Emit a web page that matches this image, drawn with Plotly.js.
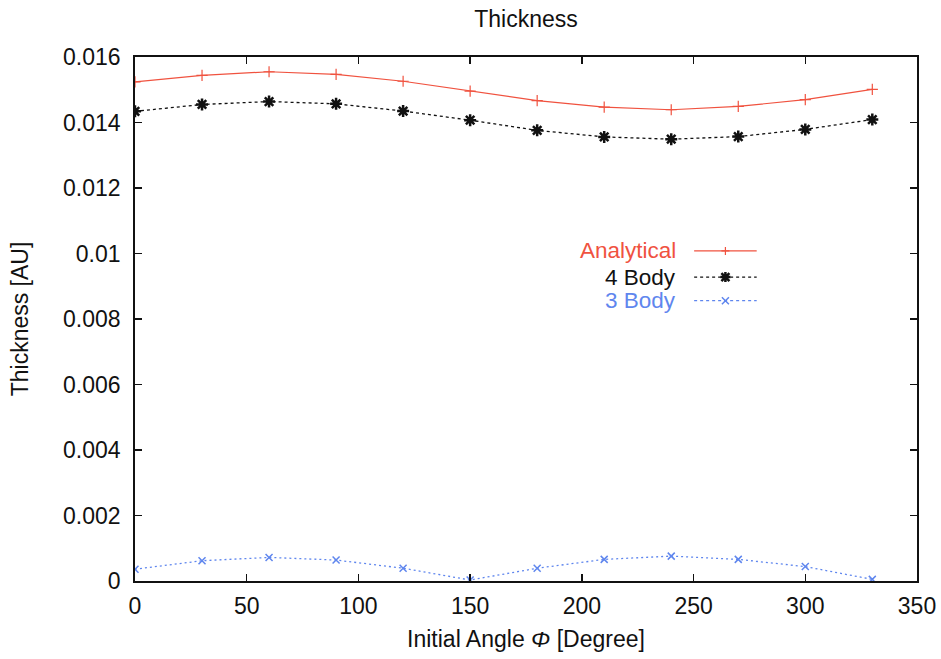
<!DOCTYPE html>
<html>
<head>
<meta charset="utf-8">
<script src="https://cdn.plot.ly/plotly-3.0.1.min.js"></script>
<style>html,body{margin:0;padding:0;background:#fff;}#chart{width:941px;height:659px;}</style>
</head>
<body>
<div id="chart"></div>
<script>
var phi = [0, 30, 60, 90, 120, 150, 180, 210, 240, 270, 300, 330];
var analytical = [0.01524, 0.01544, 0.01555, 0.01547, 0.01526, 0.01496, 0.01467, 0.01447, 0.01439, 0.01449, 0.01470, 0.01501];
var fourBody = [0.01434, 0.01455, 0.01464, 0.01457, 0.01435, 0.01407, 0.01376, 0.01356, 0.01349, 0.01357, 0.01379, 0.01409];
var threeBody = [0.00036, 0.00062, 0.00072, 0.00064, 0.00039, 0.00003, 0.00039, 0.00066, 0.00076, 0.00066, 0.00044, 0.00005];
var seriesNames = ['Analytical', '4 Body', '3 Body'];
var yTicks = [0, 0.002, 0.004, 0.006, 0.008, 0.01, 0.012, 0.014, 0.016];
var yTickText = ['0', '0.002', '0.004', '0.006', '0.008', '0.01', '0.012', '0.014', '0.016'];
var xTicks = [0, 50, 100, 150, 200, 250, 300, 350];

var RED = '#f0523f', BLACK = '#111111', BLUE = '#5f86ee';
var FONT = '"Liberation Sans", Arial, Helvetica, sans-serif';

var traces = [
  {x: phi, y: analytical, name: seriesNames[0], mode: 'lines+markers',
   line: {color: RED, width: 1.2},
   marker: {symbol: 'cross-thin-open', size: 8, line: {color: RED, width: 1.2}}},
  {x: phi, y: fourBody, name: seriesNames[1], mode: 'lines+markers',
   line: {color: BLACK, width: 1.3, dash: '3px,3px'},
   marker: {symbol: 'asterisk-open', size: 10, line: {color: BLACK, width: 2.5}}},
  {x: phi, y: threeBody, name: seriesNames[2], mode: 'lines+markers',
   line: {color: BLUE, width: 1.3, dash: '2px,3px'},
   marker: {symbol: 'x-thin-open', size: 7, line: {color: BLUE, width: 1.5}}}
];

// custom legend (text left of the sample, like gnuplot)
var legX = 0.695, legY = [0.630, 0.580, 0.535];
var legColors = [RED, BLACK, BLUE];
var legDash = ['solid', 'dot', 'dot'];
var annotations = [], shapes = [];
for (var i = 0; i < 3; i++) {
  annotations.push({xref: 'paper', yref: 'paper', x: legX, y: legY[i], xanchor: 'right', yanchor: 'middle',
    text: seriesNames[i], showarrow: false, font: {family: FONT, size: 22.5, color: legColors[i]}});
  shapes.push({type: 'line', xref: 'paper', yref: 'paper', x0: legX + 0.02, x1: legX + 0.1, y0: legY[i], y1: legY[i],
    line: {color: legColors[i], width: 1.2, dash: legDash[i]}});
}
var mx = legX + 0.06;
shapes.push({type: 'path', xref: 'paper', yref: 'paper', xsizemode: 'pixel', ysizemode: 'pixel', xanchor: mx, yanchor: legY[0],
  path: 'M-4,0L4,0M0,-4L0,4', line: {color: RED, width: 1.2}});
shapes.push({type: 'path', xref: 'paper', yref: 'paper', xsizemode: 'pixel', ysizemode: 'pixel', xanchor: mx, yanchor: legY[1],
  path: 'M-5,0L5,0M0,-5L0,5M-4,-4L4,4M-4,4L4,-4', line: {color: BLACK, width: 2.5}});
shapes.push({type: 'path', xref: 'paper', yref: 'paper', xsizemode: 'pixel', ysizemode: 'pixel', xanchor: mx, yanchor: legY[2],
  path: 'M-3.5,-3.5L3.5,3.5M-3.5,3.5L3.5,-3.5', line: {color: BLUE, width: 1.5}});

var layout = {
  width: 941, height: 659,
  margin: {l: 135, r: 24, t: 57, b: 78},
  paper_bgcolor: '#fff', plot_bgcolor: '#fff',
  showlegend: false,
  font: {family: FONT, size: 23, color: '#111'},
  title: {text: 'Thickness', xref: 'paper', x: 0.5, xanchor: 'center', yref: 'container', y: 0.972, yanchor: 'middle',
    font: {family: FONT, size: 23, color: '#111'}},
  xaxis: {range: [0, 350], tickvals: xTicks, ticks: 'inside', ticklen: 7, tickwidth: 1.5, tickcolor: '#111',
    showline: true, linecolor: '#111', linewidth: 1.8, mirror: 'ticks', showgrid: false, zeroline: false,
    ticklabelstandoff: 4,
    tickfont: {family: FONT, size: 23, color: '#111'},
    title: {text: 'Initial Angle <i>Φ</i> [Degree]', standoff: 12, font: {family: FONT, size: 23, color: '#111'}}},
  yaxis: {range: [0, 0.016], tickvals: yTicks, ticktext: yTickText, ticks: 'inside', ticklen: 7, tickwidth: 1.5, tickcolor: '#111',
    showline: true, linecolor: '#111', linewidth: 1.8, mirror: 'ticks', showgrid: false, zeroline: false,
    ticklabelstandoff: 8,
    tickfont: {family: FONT, size: 23, color: '#111'},
    title: {text: 'Thickness [AU]', standoff: 28, font: {family: FONT, size: 23, color: '#111'}}},
  annotations: annotations,
  shapes: shapes
};

Plotly.newPlot('chart', traces, layout, {displayModeBar: false, staticPlot: true});
</script>
</body>
</html>
